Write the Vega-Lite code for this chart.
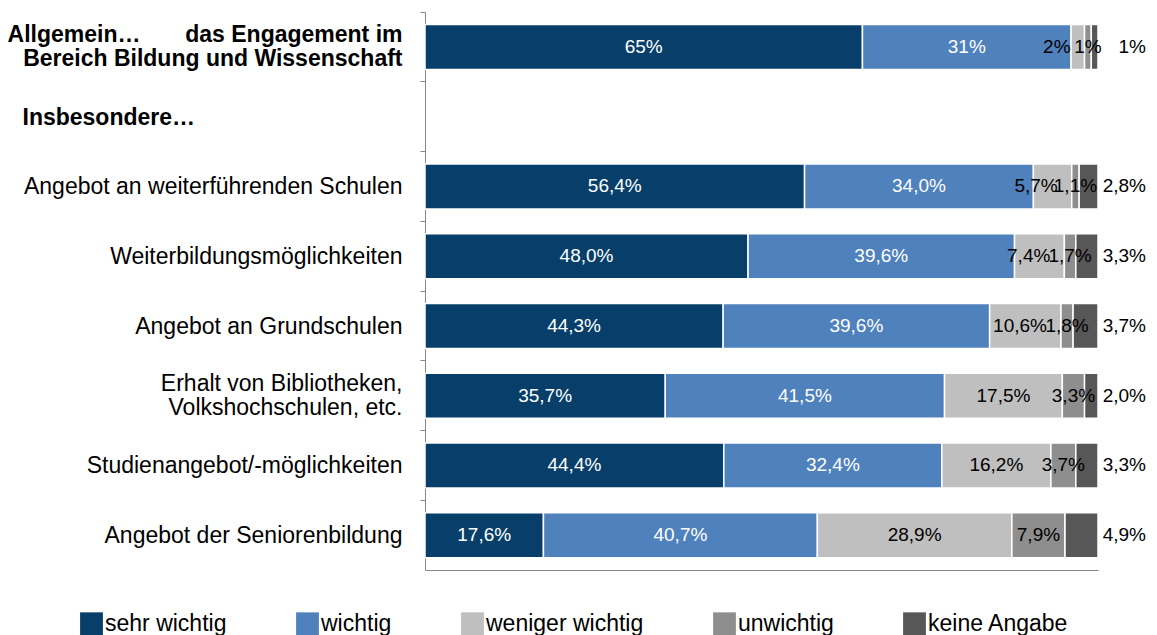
{
  "$schema": "https://vega.github.io/schema/vega-lite/v6.json",
  "width": 673,
  "height": 558,
  "autosize": "none",
  "padding": {"left": 425, "top": 12, "right": 59, "bottom": 65},
  "background": "white",
  "config": {
    "font": "Liberation Sans",
    "view": {"stroke": null}
  },
  "data": {
    "values": [
      {"item": "Allgemein…\u00a0\u00a0\u00a0\u00a0\u00a0\u00a0 das Engagement im|Bereich Bildung und Wissenschaft", "cat": "sehr wichtig", "value": 65, "label": "65%"},
      {"item": "Allgemein…\u00a0\u00a0\u00a0\u00a0\u00a0\u00a0 das Engagement im|Bereich Bildung und Wissenschaft", "cat": "wichtig", "value": 31, "label": "31%"},
      {"item": "Allgemein…\u00a0\u00a0\u00a0\u00a0\u00a0\u00a0 das Engagement im|Bereich Bildung und Wissenschaft", "cat": "weniger wichtig", "value": 2, "label": "2%"},
      {"item": "Allgemein…\u00a0\u00a0\u00a0\u00a0\u00a0\u00a0 das Engagement im|Bereich Bildung und Wissenschaft", "cat": "unwichtig", "value": 1, "label": "1%"},
      {"item": "Allgemein…\u00a0\u00a0\u00a0\u00a0\u00a0\u00a0 das Engagement im|Bereich Bildung und Wissenschaft", "cat": "keine Angabe", "value": 1, "label": "1%"},
      {"item": "Angebot an weiterführenden Schulen", "cat": "sehr wichtig", "value": 56.4, "label": "56,4%"},
      {"item": "Angebot an weiterführenden Schulen", "cat": "wichtig", "value": 34.0, "label": "34,0%"},
      {"item": "Angebot an weiterführenden Schulen", "cat": "weniger wichtig", "value": 5.7, "label": "5,7%"},
      {"item": "Angebot an weiterführenden Schulen", "cat": "unwichtig", "value": 1.1, "label": "1,1%"},
      {"item": "Angebot an weiterführenden Schulen", "cat": "keine Angabe", "value": 2.8, "label": "2,8%"},
      {"item": "Weiterbildungsmöglichkeiten", "cat": "sehr wichtig", "value": 48.0, "label": "48,0%"},
      {"item": "Weiterbildungsmöglichkeiten", "cat": "wichtig", "value": 39.6, "label": "39,6%"},
      {"item": "Weiterbildungsmöglichkeiten", "cat": "weniger wichtig", "value": 7.4, "label": "7,4%"},
      {"item": "Weiterbildungsmöglichkeiten", "cat": "unwichtig", "value": 1.7, "label": "1,7%"},
      {"item": "Weiterbildungsmöglichkeiten", "cat": "keine Angabe", "value": 3.3, "label": "3,3%"},
      {"item": "Angebot an Grundschulen", "cat": "sehr wichtig", "value": 44.3, "label": "44,3%"},
      {"item": "Angebot an Grundschulen", "cat": "wichtig", "value": 39.6, "label": "39,6%"},
      {"item": "Angebot an Grundschulen", "cat": "weniger wichtig", "value": 10.6, "label": "10,6%"},
      {"item": "Angebot an Grundschulen", "cat": "unwichtig", "value": 1.8, "label": "1,8%"},
      {"item": "Angebot an Grundschulen", "cat": "keine Angabe", "value": 3.7, "label": "3,7%"},
      {"item": "Erhalt von Bibliotheken,|Volkshochschulen, etc.", "cat": "sehr wichtig", "value": 35.7, "label": "35,7%"},
      {"item": "Erhalt von Bibliotheken,|Volkshochschulen, etc.", "cat": "wichtig", "value": 41.5, "label": "41,5%"},
      {"item": "Erhalt von Bibliotheken,|Volkshochschulen, etc.", "cat": "weniger wichtig", "value": 17.5, "label": "17,5%"},
      {"item": "Erhalt von Bibliotheken,|Volkshochschulen, etc.", "cat": "unwichtig", "value": 3.3, "label": "3,3%"},
      {"item": "Erhalt von Bibliotheken,|Volkshochschulen, etc.", "cat": "keine Angabe", "value": 2.0, "label": "2,0%"},
      {"item": "Studienangebot/-möglichkeiten", "cat": "sehr wichtig", "value": 44.4, "label": "44,4%"},
      {"item": "Studienangebot/-möglichkeiten", "cat": "wichtig", "value": 32.4, "label": "32,4%"},
      {"item": "Studienangebot/-möglichkeiten", "cat": "weniger wichtig", "value": 16.2, "label": "16,2%"},
      {"item": "Studienangebot/-möglichkeiten", "cat": "unwichtig", "value": 3.7, "label": "3,7%"},
      {"item": "Studienangebot/-möglichkeiten", "cat": "keine Angabe", "value": 3.3, "label": "3,3%"},
      {"item": "Angebot der Seniorenbildung", "cat": "sehr wichtig", "value": 17.6, "label": "17,6%"},
      {"item": "Angebot der Seniorenbildung", "cat": "wichtig", "value": 40.7, "label": "40,7%"},
      {"item": "Angebot der Seniorenbildung", "cat": "weniger wichtig", "value": 28.9, "label": "28,9%"},
      {"item": "Angebot der Seniorenbildung", "cat": "unwichtig", "value": 7.9, "label": "7,9%"},
      {"item": "Angebot der Seniorenbildung", "cat": "keine Angabe", "value": 4.9, "label": "4,9%"}
    ]
  },
  "transform": [
    {"calculate": "datum.cat == 'sehr wichtig' ? 0 : datum.cat == 'wichtig' ? 1 : datum.cat == 'weniger wichtig' ? 2 : datum.cat == 'unwichtig' ? 3 : 4", "as": "k"},
    {"stack": "value", "groupby": ["item"], "sort": [{"field": "k", "order": "ascending"}], "as": ["xs", "xe"]},
    {"calculate": "(datum.xs + datum.xe) / 2", "as": "mid"}
  ],
  "encoding": {
    "y": {
      "field": "item",
      "type": "nominal",
      "title": null,
      "scale": {
        "domain": [
          "Allgemein…\u00a0\u00a0\u00a0\u00a0\u00a0\u00a0 das Engagement im|Bereich Bildung und Wissenschaft",
          "Insbesondere…",
          "Angebot an weiterführenden Schulen",
          "Weiterbildungsmöglichkeiten",
          "Angebot an Grundschulen",
          "Erhalt von Bibliotheken,|Volkshochschulen, etc.",
          "Studienangebot/-möglichkeiten",
          "Angebot der Seniorenbildung"
        ],
        "paddingInner": 0,
        "paddingOuter": 0
      },
      "axis": {
        "labelExpr": "split(datum.label, '|')",
        "labelFont": "Liberation Sans",
        "labelFontSize": 23,
        "labelColor": "black",
        "labelLineHeight": 24,
        "labelLimit": 420,
        "labelFontWeight": {"condition": {"test": "datum.value == 'Insbesondere…' || indexof(datum.value, 'Allgemein') == 0", "value": "bold"}, "value": "normal"},
        "labelAlign": {"condition": {"test": "datum.value == 'Insbesondere…'", "value": "left"}, "value": "right"},
        "labelPadding": {"condition": {"test": "datum.value == 'Insbesondere…'", "value": 398}, "value": 18},
        "labelOffset": {"condition": {"test": "indexof(datum.value, '|') >= 0", "value": -12}, "value": 1},
        "bandPosition": 0,
        "tickSize": 5,
        "tickColor": "#888888",
        "domainColor": "#888888",
        "grid": false
      }
    }
  },
  "layer": [
    {
      "mark": {"type": "bar", "stroke": "white", "strokeWidth": 1.5, "size": 45},
      "encoding": {
        "x": {
          "field": "xs",
          "type": "quantitative",
          "scale": {"domain": [0, 100], "nice": false},
          "axis": {"labels": false, "ticks": false, "grid": false, "title": null, "domainColor": "#888888"}
        },
        "x2": {"field": "xe"},
        "color": {
          "field": "cat",
          "type": "nominal",
          "scale": {
            "domain": ["sehr wichtig", "wichtig", "weniger wichtig", "unwichtig", "keine Angabe"],
            "range": ["#073F6A", "#4F81BD", "#BFBFBF", "#8E8E8E", "#575757"]
          },
          "legend": {
            "title": null,
            "orient": "none",
            "legendX": -345,
            "legendY": 600,
            "direction": "horizontal",
            "columns": 5,
            "columnPadding": 69,
            "symbolType": "square",
            "symbolSize": 520,
            "symbolStrokeWidth": 0,
            "symbolOpacity": 1,
            "labelFont": "Liberation Sans",
            "labelFontSize": 23,
            "labelColor": "black",
            "labelOffset": 2,
            "labelLimit": 300
          }
        }
      }
    },
    {
      "transform": [{"filter": "datum.k < 2 || datum.k == 3 || (datum.k == 2 && datum.value >= 12)"}],
      "mark": {"type": "text", "font": "Liberation Sans", "fontSize": 19, "align": "center", "baseline": "middle"},
      "encoding": {
        "x": {"field": "mid", "type": "quantitative", "axis": {"labels": false, "ticks": false, "grid": false, "title": null, "domainColor": "#888888"}},
        "text": {"field": "label"},
        "color": {"condition": {"test": "datum.k < 2", "value": "white"}, "value": "black"}
      }
    },
    {
      "transform": [{"filter": "datum.k == 2 && datum.value < 12"}],
      "mark": {"type": "text", "font": "Liberation Sans", "fontSize": 19, "align": "right", "baseline": "middle", "dx": -14, "color": "black"},
      "encoding": {
        "x": {"field": "xe", "type": "quantitative", "axis": {"labels": false, "ticks": false, "grid": false, "title": null, "domainColor": "#888888"}},
        "text": {"field": "label"}
      }
    },
    {
      "transform": [{"filter": "datum.k == 4"}],
      "mark": {"type": "text", "font": "Liberation Sans", "fontSize": 19, "align": "right", "baseline": "middle", "dx": 48, "color": "black"},
      "encoding": {
        "x": {"field": "xe", "type": "quantitative", "axis": {"labels": false, "ticks": false, "grid": false, "title": null, "domainColor": "#888888"}},
        "text": {"field": "label"}
      }
    }
  ]
}
